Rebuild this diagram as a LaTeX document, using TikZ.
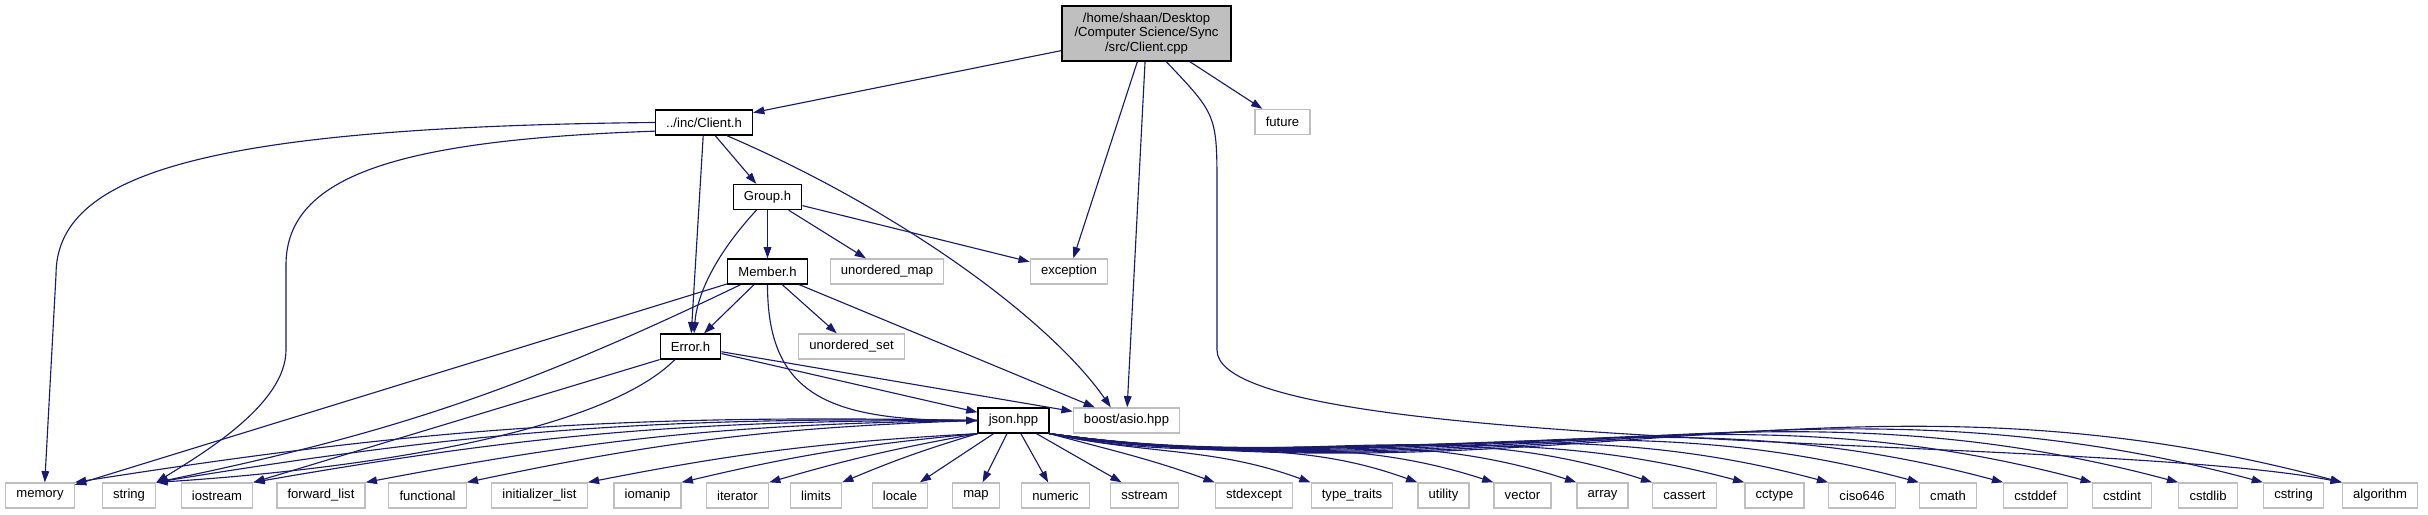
\documentclass[tikz,border=0pt]{standalone}
\usepackage{fontspec}
\setmainfont{Liberation Sans}
\usepackage{tikz}
\usetikzlibrary{arrows.meta}

\definecolor{edgeblue}{RGB}{25,25,112}

\begin{document}
\begin{tikzpicture}[x=0.25mm,y=0.25mm,
		file/.style={draw=black,line width=0.9pt,inner xsep=7.6pt,inner ysep=0pt,minimum height=17.8pt,font=\fontsize{9.3}{10.3}\selectfont},
		sys/.style={file,draw=black!25},
		dep/.style={draw=edgeblue,line width=0.8pt,-{Triangle[length=8pt,width=5.5pt]}}]
			
			\useasboundingbox (0,0) rectangle (2428,515);
			
			\node[file,fill=black!25,align=center,minimum width=120.2pt,minimum height=39.1pt] (cpp) at (1146.5,481.5) {/home/shaan/Desktop\\/Computer Science/Sync\\/src/Client.cpp};
			\node[sys] (future) at (1282.5,393) {future};
			\node[file] (clienth) at (704,392.5) {../inc/Client.h};
			\node[file] (group) at (767.5,318) {Group.h};
			\node[file] (member) at (767.5,243.5) {Member.h};
			\node[sys] (umap) at (887,243.5) {unordered\_map};
			\node[sys] (exception) at (1069,243.5) {exception};
			\node[file] (error) at (690.5,168.5) {Error.h};
			\node[sys] (uset) at (851.5,168.5) {unordered\_set};
			\node[file] (json) at (1013.5,94.5) {json.hpp};
			\node[sys] (asio) at (1126.5,94.5) {boost/asio.hpp};
			
			\node[sys] (memory) at (40,19.5) {memory};
			\node[sys] (string) at (129,19.5) {string};
			\node[sys] (iostream) at (217,19.5) {iostream};
			\node[sys] (fwdlist) at (321,19.5) {forward\_list};
			\node[sys] (functional) at (427.5,19.5) {functional};
			\node[sys] (initlist) at (539.5,19.5) {initializer\_list};
			\node[sys] (iomanip) at (647.5,19.5) {iomanip};
			\node[sys] (iterator) at (737.5,19.5) {iterator};
			\node[sys] (limits) at (816,19.5) {limits};
			\node[sys] (locale) at (900,19.5) {locale};
			\node[sys] (map) at (976,19.5) {map};
			\node[sys] (numeric) at (1055.5,19.5) {numeric};
			\node[sys] (sstream) at (1144.5,19.5) {sstream};
			\node[sys] (stdexcept) at (1254,19.5) {stdexcept};
			\node[sys] (typetraits) at (1352,19.5) {type\_traits};
			\node[sys] (utility) at (1443.5,19.5) {utility};
			\node[sys] (vector) at (1522.5,19.5) {vector};
			\node[sys] (array) at (1602.5,19.5) {array};
			\node[sys] (cassert) at (1684.5,19.5) {cassert};
			\node[sys] (cctype) at (1774.5,19.5) {cctype};
			\node[sys] (ciso) at (1862,19.5) {ciso646};
			\node[sys] (cmath) at (1948,19.5) {cmath};
			\node[sys] (cstddef) at (2035.5,19.5) {cstddef};
			\node[sys] (cstdint) at (2122,19.5) {cstdint};
			\node[sys] (cstdlib) at (2208,19.5) {cstdlib};
			\node[sys] (cstring) at (2293.5,19.5) {cstring};
			\node[sys] (algorithm) at (2380,19.5) {algorithm};
			
			\draw[dep] (cpp) -- (clienth);
			\draw[dep] (cpp) -- (future);
			\draw[dep] (cpp) -- (exception);
			\draw[dep] (cpp) -- (asio);
			\draw[dep] (cpp.-55) .. controls (1217,400) .. (1217,325) -- (1217,165) .. controls (1217,60) and (2100,80) .. (algorithm.north west);
			
			\draw[dep] (clienth.west) .. controls (200,388) and (56,340) .. (56,240) -- (memory.70);
			\draw[dep] (clienth.190) .. controls (400,375) and (286,340) .. (286,250) -- (286,165) .. controls (286,110) and (200,60) .. (string.north east);
			\draw[dep] (clienth) -- (error);
			\draw[dep] (clienth) -- (group);
			\draw[dep] (clienth.-30) .. controls (900,305) and (1050,195) .. (asio.140);
			
			\draw[dep] (group) -- (member);
			\draw[dep] (group) -- (umap);
			\draw[dep] (group) -- (exception);
			\draw[dep] (group.-130) .. controls (715,260) and (697,220) .. (error.75);
			
			\draw[dep] (member) -- (memory);
			\draw[dep] (member) to[bend left=7] (string.north east);
			\draw[dep] (member) -- (error);
			\draw[dep] (member.south) .. controls +(0,-110) and +(-150,0) .. (json.west);
			\draw[dep] (member) -- (uset);
			\draw[dep] (member) -- (asio);
			
			\draw[dep] (error.-140) .. controls (600,80) and (350,45) .. (string.north east);
			\draw[dep] (error.south west) -- (iostream.north east);
			\draw[dep] (error) -- (json);
			\draw[dep] (error) -- (asio);
			
			\draw[dep] (json.west) to[bend right=5] (memory.north east);
			\draw[dep] (json.west) to[bend right=5] (string.north east);
			\draw[dep] (json.west) to[bend right=5] (iostream.north east);
			\draw[dep] (json.west) to[bend right=5] (fwdlist.north east);
			\draw[dep] (json.west) to[bend right=5] (functional.north east);
			\draw[dep] (json.south west) to[bend right=4] (initlist.north east);
			\draw[dep] (json.south west) to[bend right=4] (iomanip.north east);
			\draw[dep] (json.south west) to[bend right=3] (iterator.north east);
			\draw[dep] (json.south west) to[bend right=3] (limits.north east);
			\draw[dep] (json) -- (locale);
			\draw[dep] (json) -- (map);
			\draw[dep] (json) -- (numeric);
			\draw[dep] (json) -- (sstream);
			\draw[dep] (json.south east) to[out=-15,in=160] (stdexcept.north west);
			\draw[dep] (json.south east) to[out=-12,in=160] (typetraits.north west);
			\draw[dep] (json.south east) to[out=-12,in=160] (utility.north west);
			\draw[dep] (json.south east) to[out=-10,in=162] (vector.north west);
			\draw[dep] (json.south east) to[out=-10,in=162] (array.north west);
			\draw[dep] (json.south east) to[out=-10,in=162] (cassert.north west);
			\draw[dep] (json.south east) to[out=-8,in=165] (cctype.north west);
			\draw[dep] (json.south east) to[out=-8,in=165] (ciso.north west);
			\draw[dep] (json.south east) to[out=-8,in=165] (cmath.north west);
			\draw[dep] (json.south east) to[out=-8,in=165] (cstddef.north west);
			\draw[dep] (json.south east) to[out=-8,in=165] (cstdint.north west);
			\draw[dep] (json.south east) to[out=-8,in=165] (cstdlib.north west);
			\draw[dep] (json.south east) to[out=-8,in=165] (cstring.north west);
			\draw[dep] (json.south east) to[out=-8,in=165] (algorithm.north west);
			
		\end{tikzpicture}
\end{document}
